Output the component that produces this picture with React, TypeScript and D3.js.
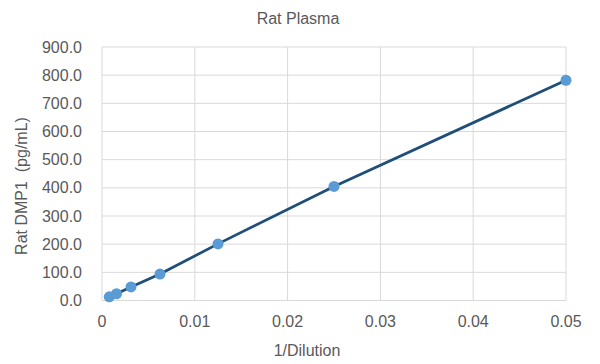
import React from "react";
import * as d3 from "d3";

const xValues = [0.00078125, 0.0015625, 0.003125, 0.00625, 0.0125, 0.025, 0.05];
const yValues = [13, 24, 48, 94, 201, 405, 782];
const xTicks = [0, 0.01, 0.02, 0.03, 0.04, 0.05];
const yTicks = [0, 100, 200, 300, 400, 500, 600, 700, 800, 900];
const title = "Rat Plasma";
const xTitle = "1/Dilution";
const yTitle = "Rat DMP1  (pg/mL)";

const W = 600;
const H = 364;
const left = 102;
const right = 566;
const top = 47;
const bottom = 300.5;
const font = "'Liberation Sans', Arial, sans-serif";
const textColor = "#595959";
const gridColor = "#D9D9D9";

export default function App() {
  const x = d3.scaleLinear().domain([0, 0.05]).range([left, right]);
  const y = d3.scaleLinear().domain([0, 900]).range([bottom, top]);
  const pts = xValues.map((v, i) => [v, yValues[i]] as [number, number]);
  const line = d3
    .line<[number, number]>()
    .x((d) => x(d[0]))
    .y((d) => y(d[1]));

  return (
    <svg
      width={W}
      height={H}
      style={{ position: "absolute", left: 0, top: 0, background: "#fff" }}
      fontFamily={font}
    >
      <rect x={0} y={0} width={W} height={H} fill="#fff" />
      {yTicks.map((t) => (
        <line key={"gy" + t} x1={left} x2={right} y1={y(t)} y2={y(t)} stroke={gridColor} strokeWidth={1} />
      ))}
      {xTicks.map((t) => (
        <line key={"gx" + t} x1={x(t)} x2={x(t)} y1={top} y2={bottom} stroke={gridColor} strokeWidth={1} />
      ))}
      {yTicks.map((t) => (
        <text
          key={"ly" + t}
          x={82}
          y={y(t)}
          dy="0.35em"
          textAnchor="end"
          fontSize={16}
          fill={textColor}
        >
          {d3.format(".1f")(t)}
        </text>
      ))}
      {xTicks.map((t) => (
        <text key={"lx" + t} x={x(t)} y={327} textAnchor="middle" fontSize={16} fill={textColor}>
          {t === 0 ? "0" : d3.format("")(t)}
        </text>
      ))}
      <path d={line(pts) || ""} fill="none" stroke="#1F4E79" strokeWidth={2.75} strokeLinejoin="round" />
      {pts.map((d, i) => (
        <circle key={"p" + i} cx={x(d[0])} cy={y(d[1])} r={5.5} fill="#5B9BD5" />
      ))}
      <text x={298} y={24} textAnchor="middle" fontSize={16} fill={textColor}>
        {title}
      </text>
      <text x={307} y={356} textAnchor="middle" fontSize={16} fill={textColor}>
        {xTitle}
      </text>
      <text
        transform={`translate(26.5,186) rotate(-90)`}
        textAnchor="middle"
        fontSize={16}
        fill={textColor}
        style={{ whiteSpace: "pre" }}
      >
        {yTitle}
      </text>
    </svg>
  );
}
